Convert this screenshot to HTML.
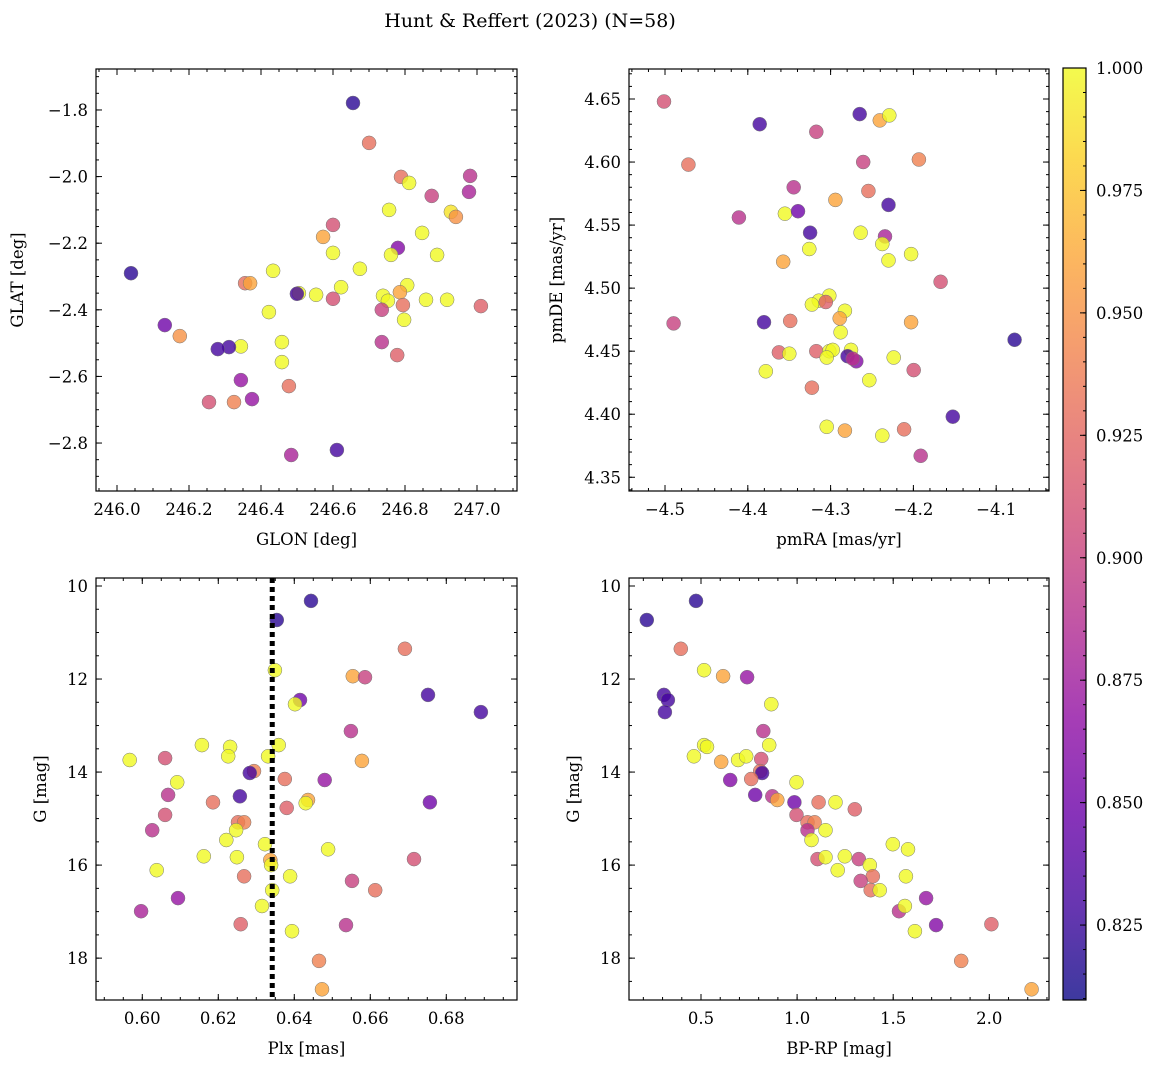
<!DOCTYPE html>
<html><head><meta charset="utf-8"><style>
body{margin:0;background:#fff}
svg{display:block;font-family:"DejaVu Serif","Liberation Serif",serif}
</style></head><body>
<svg id="fig" width="1160" height="1068" viewBox="0 0 1160 1068" xmlns="http://www.w3.org/2000/svg">
<text x="530" y="27" text-anchor="middle" font-size="19">Hunt &amp; Reffert (2023) (N=58)</text>
</svg>
<script>
// ---- Panel 1: GLON vs GLAT ----
const p1X=[246.6556,246.7004,246.7889,246.8113,246.9809,246.9777,246.8742,246.9276,246.9414,246.7558,246.6001,246.5724,246.8476,246.7804,246.6001,246.7612,246.8892,246.4337,246.6748,246.6225,246.806,246.3558,246.3697,246.039,246.5052,246.4998,246.5532,246.7388,246.7526,246.7857,246.7942,246.8582,246.9169,247.0108,246.6001,246.7356,246.422,246.7974,246.1329,246.1745,246.4582,246.3441,246.311,246.2801,246.7356,246.7782,246.4582,246.3441,246.4774,246.2556,246.3249,246.375,246.6108,246.4838];
const p1Y=[-1.779,-1.899,-2.001,-2.019,-1.998,-2.046,-2.058,-2.106,-2.121,-2.10,-2.145,-2.181,-2.169,-2.214,-2.229,-2.235,-2.235,-2.283,-2.277,-2.332,-2.326,-2.32,-2.32,-2.29,-2.35,-2.352,-2.355,-2.358,-2.373,-2.347,-2.386,-2.37,-2.37,-2.389,-2.367,-2.40,-2.407,-2.43,-2.446,-2.479,-2.497,-2.51,-2.512,-2.518,-2.497,-2.536,-2.557,-2.611,-2.629,-2.677,-2.677,-2.668,-2.821,-2.836];
const p1P=[0.82,0.93,0.93,1.0,0.89,0.88,0.90,0.99,0.95,1.0,0.91,0.96,1.0,0.86,1.0,1.0,1.0,1.0,1.0,1.0,1.0,0.93,0.96,0.82,1.0,0.83,1.0,1.0,1.0,0.96,0.93,1.0,1.0,0.92,0.91,0.90,1.0,1.0,0.85,0.95,1.0,1.0,0.83,0.83,0.89,0.92,1.0,0.87,0.93,0.91,0.94,0.87,0.83,0.88];
// ---- Panel 2: pmRA vs pmDE ----
const p2X=[-4.5012,-4.3856,-4.2648,-4.2406,-4.2291,-4.3173,-4.4718,-4.2606,-4.1933,-4.3446,-4.2543,-4.2301,-4.2942,-4.4108,-4.3552,-4.3394,-4.3247,-4.2637,-4.2343,-4.2375,-4.3257,-4.2028,-4.2301,-4.3572,-4.1671,-4.3016,-4.3142,-4.3226,-4.3058,-4.2827,-4.289,-4.3804,-4.3488,-4.4896,-4.2028,-4.0778,-4.2879,-4.3625,-4.3499,-4.3173,-4.3016,-4.2974,-4.2753,-4.2795,-4.269,-4.2732,-4.3047,-4.2238,-4.3783,-4.1996,-4.2532,-4.3226,-4.1524,-4.3047,-4.2827,-4.2112,-4.2375,-4.1912];
const p2Y=[4.648,4.630,4.638,4.633,4.637,4.624,4.598,4.600,4.602,4.580,4.577,4.566,4.570,4.556,4.559,4.561,4.544,4.544,4.541,4.535,4.531,4.527,4.522,4.521,4.505,4.494,4.490,4.487,4.489,4.482,4.476,4.473,4.474,4.472,4.473,4.459,4.465,4.449,4.448,4.450,4.450,4.451,4.451,4.446,4.442,4.444,4.445,4.445,4.434,4.435,4.427,4.421,4.398,4.390,4.387,4.388,4.383,4.367];
const p2P=[0.91,0.83,0.83,0.96,1.0,0.90,0.93,0.90,0.94,0.89,0.93,0.83,0.96,0.89,1.0,0.85,0.83,1.0,0.88,1.0,1.0,1.0,1.0,0.96,0.91,1.0,1.0,1.0,0.92,1.0,0.96,0.83,0.93,0.90,0.96,0.82,1.0,0.92,1.0,0.92,1.0,1.0,1.0,0.83,0.86,0.89,1.0,1.0,1.0,0.91,1.0,0.93,0.83,1.0,0.96,0.93,1.0,0.89];
// ---- Panel 3: Plx vs G ----
const p3X=[0.6444,0.6354,0.6691,0.6349,0.6554,0.6586,0.6752,0.6415,0.6402,0.6891,0.6549,0.6157,0.6231,0.6359,0.6060,0.6226,0.6331,0.5967,0.6578,0.6294,0.6283,0.6092,0.6375,0.6480,0.6068,0.6257,0.6186,0.6757,0.6436,0.6430,0.6380,0.6060,0.6252,0.6268,0.6247,0.6026,0.6221,0.6323,0.6489,0.6162,0.6249,0.6715,0.6337,0.6339,0.6038,0.6389,0.6268,0.6552,0.6613,0.6342,0.6094,0.6315,0.5997,0.6259,0.6536,0.6394,0.6465,0.6473];
const p3Y=[10.32,10.73,11.35,11.81,11.94,11.96,12.34,12.45,12.54,12.71,13.12,13.42,13.46,13.42,13.70,13.66,13.66,13.74,13.76,13.98,14.02,14.22,14.15,14.17,14.49,14.52,14.65,14.65,14.60,14.67,14.77,14.92,15.08,15.08,15.25,15.25,15.46,15.55,15.66,15.81,15.83,15.87,15.89,16.00,16.11,16.24,16.24,16.34,16.54,16.54,16.71,16.88,16.99,17.27,17.29,17.42,18.06,18.67];
const p3P=[0.82,0.82,0.93,1.0,0.96,0.90,0.83,0.85,1.0,0.83,0.89,1.0,1.0,1.0,0.91,1.0,1.0,1.0,0.96,0.94,0.83,1.0,0.93,0.87,0.89,0.83,0.93,0.85,0.96,1.0,0.92,0.91,0.93,0.94,1.0,0.89,1.0,1.0,1.0,1.0,1.0,0.91,0.96,1.0,1.0,1.0,0.93,0.90,0.93,1.0,0.87,1.0,0.88,0.92,0.89,1.0,0.94,0.96];
const plxRef=0.6342;
// ---- Panel 4: BP-RP vs G ----
const p4X=[0.218,0.474,0.395,0.307,0.328,0.312,0.516,0.615,0.740,0.866,0.824,0.516,0.531,0.855,0.463,0.605,0.693,0.735,0.813,0.808,0.818,0.652,0.761,0.997,0.782,0.871,0.897,0.986,1.112,1.200,0.997,1.300,1.054,1.091,1.054,1.148,1.075,1.498,1.577,1.106,1.148,1.248,1.321,1.378,1.211,1.394,1.566,1.331,1.671,1.383,1.430,1.530,1.561,1.723,2.011,1.613,1.854,2.220];
const p4Y=[10.73,10.32,11.35,12.34,12.45,12.71,11.81,11.94,11.96,12.54,13.12,13.42,13.46,13.42,13.66,13.78,13.74,13.66,13.72,13.98,14.02,14.17,14.15,14.22,14.49,14.52,14.60,14.65,14.65,14.65,14.92,14.80,15.08,15.08,15.25,15.25,15.46,15.55,15.66,15.87,15.83,15.81,15.87,16.00,16.11,16.24,16.24,16.34,16.71,16.54,16.54,16.99,16.88,17.29,17.27,17.42,18.06,18.67];
const p4P=[0.82,0.82,0.93,0.83,0.83,0.83,1.0,0.96,0.87,1.0,0.89,1.0,1.0,1.0,1.0,0.96,1.0,1.0,0.91,0.93,0.83,0.86,0.93,1.0,0.85,0.89,0.96,0.85,0.93,1.0,0.91,0.92,0.93,0.94,0.89,1.0,1.0,1.0,1.0,0.91,1.0,1.0,0.90,1.0,1.0,0.93,1.0,0.90,0.87,0.93,1.0,0.89,1.0,0.86,0.92,1.0,0.94,0.96];
const cbTicks=[0.825,0.850,0.875,0.900,0.925,0.950,0.975,1.000];

const NS='http://www.w3.org/2000/svg';
const svg=document.getElementById('fig');
const VMIN=0.8097,VMAX=1.0;
const stops=['#0d0887','#41049d','#6a00a8','#8f0da4','#b12a90','#cc4778','#e16462','#f2844b','#fca636','#fcce25','#f0f921'];
function hex(h){return [1,3,5].map(i=>parseInt(h.substr(i,2),16));}
function plasma(t){t=Math.max(0,Math.min(1,t));const f=t*10,i=Math.min(9,Math.floor(f)),u=f-i;const a=hex(stops[i]),b=hex(stops[i+1]);return 'rgb('+a.map((v,k)=>Math.round(v+(b[k]-v)*u)).join(',')+')';}
function el(tag,attrs,parent){const e=document.createElementNS(NS,tag);for(const k in attrs)e.setAttribute(k,attrs[k]);(parent||svg).appendChild(e);return e;}
function fmt(v,d){return (v<0?'\u2212':'')+Math.abs(v).toFixed(d);}

function panel(o){
  const g=el('g',{});
  
  
  const {x0,x1,y0,y1}=o.box;
  const sx=v=>x0+(v-o.xr[0])/(o.xr[1]-o.xr[0])*(x1-x0);
  const sy=v=>o.yinv? y0+(v-o.yr[0])/(o.yr[1]-o.yr[0])*(y1-y0) : y1-(v-o.yr[0])/(o.yr[1]-o.yr[0])*(y1-y0);
  for(let i=0;i<o.xs.length;i++){
    const c=el('circle',{cx:sx(o.xs[i]).toFixed(1),cy:sy(o.ys[i]).toFixed(1),r:7,fill:plasma((o.ps[i]-VMIN)/(VMAX-VMIN)),'fill-opacity':0.8,stroke:'#777','stroke-width':0.5},g);
    
    
  }
  if(o.vline!==undefined){
    const l=el('line',{x1:sx(o.vline),x2:sx(o.vline),y1:y0,y2:y1,stroke:'#000','stroke-width':5,'stroke-dasharray':'5 4'},g);
    
    
  }
  const eps=1e-9;
  function ticks(r,step,cb){const s=Math.ceil(Math.min(r[0],r[1])/step-eps),e=Math.floor(Math.max(r[0],r[1])/step+eps);for(let k=s;k<=e;k++)cb(k*step);}
  ticks(o.xr,o.xminor,v=>{const x=sx(v);el('line',{x1:x,x2:x,y1:y1,y2:y1-3,stroke:'#000'},g);el('line',{x1:x,x2:x,y1:y0,y2:y0+3,stroke:'#000'},g);});
  ticks(o.yr,o.yminor,v=>{const y=sy(v);el('line',{x1:x0,x2:x0+3,y1:y,y2:y,stroke:'#000'},g);el('line',{x1:x1,x2:x1-3,y1:y,y2:y,stroke:'#000'},g);});
  o.xticks.forEach(v=>{const x=sx(v);el('line',{x1:x,x2:x,y1:y1,y2:y1-6,stroke:'#000'},g);el('line',{x1:x,x2:x,y1:y0,y2:y0+6,stroke:'#000'},g);
    const t=el('text',{x:x,y:y1+24,'text-anchor':'middle','font-size':16.5},g);t.textContent=fmt(v,o.xd);
    
    });
  o.yticks.forEach(v=>{const y=sy(v);el('line',{x1:x0,x2:x0+6,y1:y,y2:y,stroke:'#000'},g);el('line',{x1:x1,x2:x1-6,y1:y,y2:y,stroke:'#000'},g);
    const t=el('text',{x:x0-8,y:y+6,'text-anchor':'end','font-size':16.5},g);t.textContent=fmt(v,o.yd);
    
    });
  const fr=el('rect',{x:x0,y:y0,width:x1-x0,height:y1-y0,fill:'none',stroke:'#000','stroke-width':1.2},g);
  
  
  const xl=el('text',{x:(x0+x1)/2,y:y1+54,'text-anchor':'middle','font-size':16.5},g);xl.textContent=o.xlabel;
  
  
  const yc=(y0+y1)/2;
  const yl=el('text',{x:o.ylx,y:yc,'text-anchor':'middle','font-size':16.5,transform:'rotate(-90 '+o.ylx+' '+yc+')'},g);yl.textContent=o.ylabel;
  
  
}
function rng(a,b,s){const r=[];for(let v=a;v<=b+1e-9;v+=s)r.push(+v.toFixed(6));return r;}

panel({name:'glon-glat-panel',box:{x0:96,x1:517,y0:69,y1:491},xr:[245.9417,247.1111],yr:[-2.944,-1.677],xs:p1X,ys:p1Y,ps:p1P,
  xticks:rng(246,247,0.2),yticks:rng(-2.8,-1.8,0.2),xminor:0.05,yminor:0.05,xd:1,yd:1,xlabel:'GLON [deg]',ylabel:'GLAT [deg]',ylx:23});
panel({name:'proper-motion-panel',box:{x0:629,x1:1049,y0:69,y1:491},xr:[-4.5435,-4.0362],yr:[4.3391,4.6738],xs:p2X,ys:p2Y,ps:p2P,
  xticks:rng(-4.5,-4.1,0.1),yticks:rng(4.35,4.65,0.05),xminor:0.02,yminor:0.01,xd:1,yd:2,xlabel:'pmRA [mas/yr]',ylabel:'pmDE [mas/yr]',ylx:562});
panel({name:'parallax-magnitude-panel',box:{x0:96,x1:517,y0:578,y1:1000},xr:[0.58782,0.69861],yr:[9.828,18.90],yinv:true,xs:p3X,ys:p3Y,ps:p3P,vline:plxRef,
  xticks:rng(0.60,0.68,0.02),yticks:rng(10,18,2),xminor:0.005,yminor:0.5,xd:2,yd:0,xlabel:'Plx [mas]',ylabel:'G [mag]',ylx:46});
panel({name:'color-magnitude-panel',box:{x0:629,x1:1049,y0:578,y1:1000},xr:[0.1254,2.3106],yr:[9.828,18.90],yinv:true,xs:p4X,ys:p4Y,ps:p4P,
  xticks:rng(0.5,2.0,0.5),yticks:rng(10,18,2),xminor:0.1,yminor:0.5,xd:1,yd:0,xlabel:'BP-RP [mag]',ylabel:'G [mag]',ylx:579});

(function(){
  const g=el('g',{});
  
  
  const defs=el('defs',{},g);
  const lg=el('linearGradient',{id:'cbg',x1:0,y1:1,x2:0,y2:0},defs);
  for(let i=0;i<=20;i++)el('stop',{offset:(i/20),'stop-color':plasma(i/20)},lg);
  const x0=1063,x1=1086,y0=68,y1=1000;
  el('rect',{x:x0,y:y0,width:x1-x0,height:y1-y0,fill:'url(#cbg)','fill-opacity':0.8},g);
  const sy=v=>y1-(v-VMIN)/(VMAX-VMIN)*(y1-y0);
  for(let v=Math.ceil(VMIN/0.005)*0.005;v<=VMAX+1e-9;v+=0.005){const y=sy(v);el('line',{x1:x1,x2:x1-3,y1:y,y2:y,stroke:'#000'},g);}
  cbTicks.forEach(v=>{const y=sy(v);el('line',{x1:x1,x2:x1-6,y1:y,y2:y,stroke:'#000'},g);
    const t=el('text',{x:x1+10,y:y+6,'font-size':16.5},g);t.textContent=v.toFixed(3);
    
    });
  el('rect',{x:x0,y:y0,width:x1-x0,height:y1-y0,fill:'none',stroke:'#000','stroke-width':1.2},g);
})();
</script>
</body></html>
